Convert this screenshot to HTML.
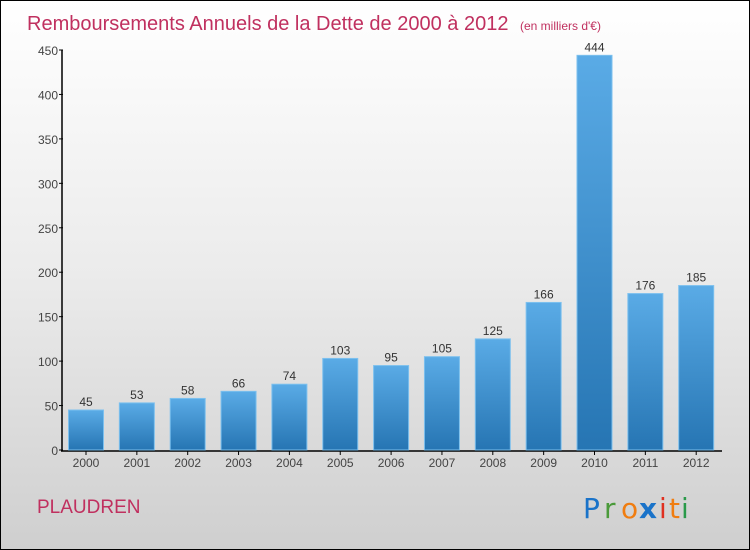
<!DOCTYPE html>
<html><head><meta charset="utf-8"><style>
body{margin:0}
#c{width:748px;height:548px;border:1px solid #000;background:linear-gradient(#fff,#ebebeb 50%,#cfcfcf);position:relative;overflow:hidden;font-family:"Liberation Sans",sans-serif}
</style></head><body>
<div id="c">
<svg id="s" width="748" height="548" xmlns="http://www.w3.org/2000/svg">
<defs><linearGradient id="g" x1="0" y1="0" x2="0" y2="1"><stop offset="0" stop-color="#5aabe6"/><stop offset="1" stop-color="#2675b3"/></linearGradient></defs>
<text x="26" y="29" font-size="20" fill="#c0305f">Remboursements Annuels de la Dette de 2000 à 2012 <tspan font-size="12" dx="6">(en milliers d'€)</tspan></text>
<g id="ax"></g><g id="bars"></g>
<text x="36" y="512" font-size="19" fill="#c0305f">PLAUDREN</text>
<g font-size="28" font-family="'DejaVu Sans',sans-serif">
<text x="582" y="517" fill="#1a73c9">P</text><text x="603" y="517" fill="#4a9a3a">r</text><text x="620" y="517" fill="#f07d10">o</text><text x="638" y="517" fill="#1a73c9" font-weight="bold">x</text><text x="658" y="517" fill="#e03020">i</text><text x="668" y="517" fill="#f07d10">t</text><text x="680" y="517" fill="#2a9a4a">i</text></g>
</svg></div>
<script>
const years=["2000","2001","2002","2003","2004","2005","2006","2007","2008","2009","2010","2011","2012"];
const values=[45,53,58,66,74,103,95,105,125,166,444,176,185];
const ticks=[0,50,100,150,200,250,300,350,400,450];
const NS="http://www.w3.org/2000/svg";
const y=v=>449-v*400/450, x=i=>67.5+i*50.85;
function el(t,a,p){const e=document.createElementNS(NS,t);for(const k in a)e.setAttribute(k,a[k]);p.appendChild(e);return e;}
const ax=document.getElementById('ax'),bg=document.getElementById('bars');
const yl=el('line',{x1:61,y1:49,x2:61,y2:450,stroke:'#000','stroke-width':1.5},ax);


const xl=el('line',{x1:60,y1:450,x2:721,y2:450,stroke:'#000','stroke-width':1.5},ax);


ticks.forEach(t=>{el('line',{x1:58,x2:62,y1:y(t),y2:y(t),stroke:'#000'},ax);
const tx=el('text',{x:57,y:y(t)+5,'text-anchor':'end','font-size':12,fill:'#444'},ax);tx.textContent=t;

});
values.forEach((v,i)=>{const r=el('rect',{x:x(i),y:y(v),width:35,height:449-y(v),fill:'url(#g)',stroke:'#7cc0ee','stroke-width':1},bg);


const l=el('text',{x:x(i)+17.5,y:y(v)-4,'text-anchor':'middle','font-size':12,fill:'#333'},bg);l.textContent=v;


el('line',{x1:x(i)+17.5,x2:x(i)+17.5,y1:450,y2:454,stroke:'#000'},ax);
const yt=el('text',{x:x(i)+17.5,y:466,'text-anchor':'middle','font-size':12,fill:'#444'},ax);yt.textContent=years[i];

});
</script></body></html>
